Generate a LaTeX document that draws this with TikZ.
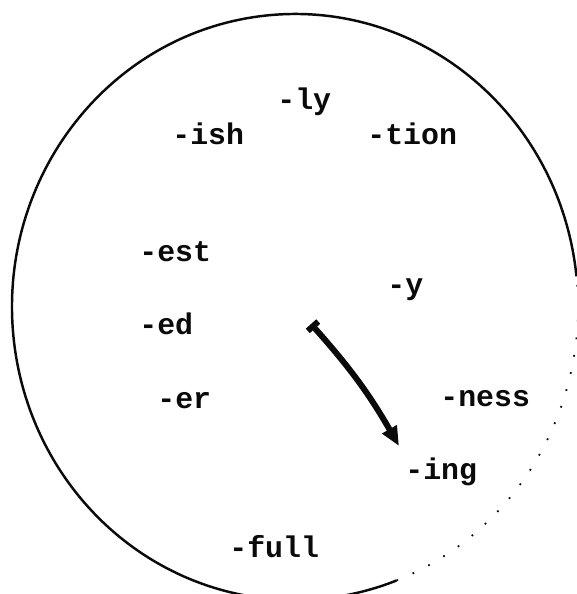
\documentclass[tikz,border=0pt]{standalone}
\usepackage{fontspec}
\usepackage{xcolor}
\usepackage{tikz}
\usetikzlibrary{arrows.meta, positioning, calc}
\newfontfamily\typewriter{Liberation Mono}
\definecolor{inkcolor}{RGB}{10, 10, 10}

\tikzset{
  suffix/.style={anchor=base west, inner sep=0pt, color=inkcolor,
    font=\typewriter\bfseries\fontsize{17}{20}\selectfont},
  rim/.style={line width=1.4pt, color=inkcolor},
  fadedrim/.style={line width=1pt, color=inkcolor, dash pattern=on 1pt off 9pt},
  hand/.style={line width=3.4pt, color=inkcolor, {Bar[width=8pt]}-{Triangle[length=11pt, width=9pt]}}
}

\begin{document}
\begin{tikzpicture}[x=0.02cm, y=0.02cm]
  \useasboundingbox (0,0) rectangle (577,594);
  \clip (0,0) rectangle (577,594);

  % --- Contorno do disco ---
  \coordinate (centre) at (295,287);
  \draw[rim] ($(centre)+({283*cos(6)},{293*sin(6)})$)
    arc[start angle=6, end angle=291, x radius=283, y radius=293];
  % parte quase apagada (em baixo, à direita)
  \draw[fadedrim] ($(centre)+({283*cos(-69)},{293*sin(-69)})$)
    arc[start angle=-69, end angle=6, x radius=283, y radius=293];

  % --- Sufixos em volta ---
  \node[suffix] (ly)   at (277,484) {-ly};
  \node[suffix] (ish)  at (172,449) {-ish};
  \node[suffix] (tion) at (367,449) {-tion};
  \node[suffix] (est)  at (139,332) {-est};
  \node[suffix] (y)    at (387,299) {-y};
  \node[suffix] (ed)   at (139,259) {-ed};
  \node[suffix] (er)   at (157,185) {-er};
  \node[suffix] (ness) at (440,187) {-ness};
  \node[suffix] (ing)  at (405,114) {-ing};
  \node[suffix] (full) at (229,36)  {-full};

  % --- Ponteiro ---
  \coordinate (pivot) at (311,270);
  \coordinate (tip) at (399,148);
  \draw[hand] (pivot) to[bend left=6] (tip);

\end{tikzpicture}
\end{document}
